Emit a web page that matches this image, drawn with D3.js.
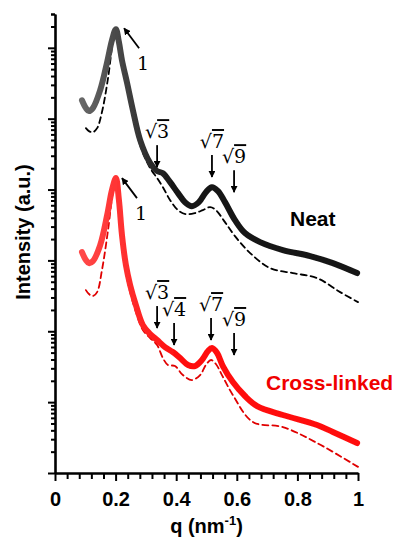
<!DOCTYPE html>
<html>
<head>
<meta charset="utf-8">
<script src="https://cdn.jsdelivr.net/npm/d3@7/dist/d3.min.js"></script>
<style>
	body { margin: 0; background: #fff; }
	text { font-family: "Liberation Sans", Arial, sans-serif; }
	.axis path, .axis line { stroke: #000; }
	.peak-label { font-family: "DejaVu Serif", "Liberation Serif", serif; font-size: 19px; }
</style>
</head>
<body>
<div id="chart-area"></div>
<script>

// Neat - solid (measured)
const neatQ = [0.089, 0.102, 0.112, 0.125, 0.149, 0.172, 0.188, 0.201, 0.211, 0.221, 0.238, 0.257, 0.281, 0.314, 0.337, 0.356, 0.380, 0.406, 0.429, 0.452, 0.475, 0.498, 0.518, 0.538, 0.561, 0.594, 0.627, 0.677, 0.752, 0.842, 0.917, 0.997];
const neatI = [1.82e5, 1.41e5, 1.28e5, 1.41e5, 2.52e5, 6.27e5, 1.28e6, 1.83e6, 1.20e6, 6.68e5, 3.17e5, 1.32e5, 4.98e4, 2.36e4, 1.82e4, 1.70e4, 1.27e4, 8.89e3, 6.64e3, 5.83e3, 6.64e3, 9.18e3, 1.08e4, 9.49e3, 6.64e3, 3.70e3, 2.43e3, 1.81e3, 1.40e3, 1.15e3, 916, 662];

// Neat - dashed
const neatFitQ = [0.102, 0.112, 0.125, 0.139, 0.155, 0.175, 0.191, 0.201, 0.211, 0.221, 0.238, 0.257, 0.281, 0.314, 0.337, 0.356, 0.380, 0.406, 0.432, 0.462, 0.488, 0.512, 0.531, 0.561, 0.594, 0.644, 0.710, 0.785, 0.865, 0.941, 1.0];
const neatFitI = [7.35e4, 6.67e4, 6.45e4, 7.35e4, 1.24e5, 3.73e5, 1.20e6, 1.77e6, 1.12e6, 6.27e5, 2.87e5, 1.16e5, 4.23e4, 2.00e4, 1.45e4, 1.08e4, 7.08e3, 5.12e3, 4.50e3, 4.65e3, 5.12e3, 5.65e3, 5.12e3, 3.47e3, 2.20e3, 1.27e3, 778, 662, 562, 357, 258];

// Cross-linked - solid
const crossQ = [0.089, 0.102, 0.112, 0.125, 0.149, 0.172, 0.188, 0.201, 0.211, 0.221, 0.234, 0.248, 0.267, 0.290, 0.314, 0.337, 0.363, 0.389, 0.413, 0.439, 0.462, 0.485, 0.505, 0.518, 0.535, 0.554, 0.587, 0.627, 0.667, 0.752, 0.865, 0.917, 0.997];
const crossI = [1.31e3, 1.01e3, 916, 977, 1.64e3, 4.35e3, 9.82e3, 1.45e4, 7.08e3, 2.28e3, 859, 448, 234, 122, 91.3, 75.1, 59.8, 50.9, 41.9, 33.4, 32.3, 39.3, 52.6, 58.0, 49.3, 32.3, 19.2, 12.2, 8.81, 6.58, 4.75, 3.79, 2.65];

// Cross-linked - dashed
const crossFitQ = [0.102, 0.112, 0.125, 0.139, 0.155, 0.175, 0.191, 0.201, 0.211, 0.221, 0.234, 0.248, 0.267, 0.290, 0.314, 0.337, 0.356, 0.373, 0.396, 0.422, 0.452, 0.479, 0.498, 0.515, 0.531, 0.551, 0.587, 0.653, 0.752, 0.865, 1.0];
const crossFitI = [381, 335, 314, 357, 730, 2.67e3, 9.18e3, 1.36e4, 6.03e3, 1.93e3, 684, 357, 187, 104, 80.2, 63.9, 41.9, 33.4, 32.3, 24.1, 20.5, 24.1, 33.4, 39.3, 34.5, 24.1, 12.6, 5.24, 4.45, 2.65, 1.22];

// peak annotations (label, q, intensity at arrow tip)
const neatPeakLabels = ["√3", "√7", "√9"];
const neatPeakQ = [0.337, 0.518, 0.591];
const neatPeakI = [2.07e4, 1.50e4, 9.18e3];

const crossPeakLabels = ["√3", "√4", "√7", "√9"];
const crossPeakQ = [0.337, 0.393, 0.515, 0.591];
const crossPeakI = [111, 63.9, 75.1, 46.2];

// first order peak arrows
const firstQ = [0.228, 0.221];
const firstI = [1.89e6, 1.45e4];

// axis ticks
const xMajorTicks = [0, 0.2, 0.4, 0.6, 0.8, 1];
const xTickLabels = ["0", "0.2", "0.4", "0.6", "0.8", "1"];

drawChart();

function drawChart(){

	let margin = {top: 14, right: 48, bottom: 66, left: 55};
	let width = 406 - margin.left - margin.right,
		height = 539 - margin.top - margin.bottom;

	let svgRoot = d3.select("#chart-area").append("svg")
		.attr("width", 406)
		.attr("height", 539);

	let defs = svgRoot.append("defs");
	defs.append("marker")
		.attr("id", "head")
		.attr("viewBox", "0 0 10 10")
		.attr("refX", 9).attr("refY", 5)
		.attr("markerWidth", 7).attr("markerHeight", 7)
		.attr("markerUnits", "userSpaceOnUse")
		.attr("orient", "auto")
		.append("path")
		.attr("d", "M0,0 L10,5 L0,10 Z")
		.attr("fill", "#000");

	defs.append("filter").attr("id", "soft")
		.append("feGaussianBlur").attr("stdDeviation", 0.7);

	let svg = svgRoot.append("g")
		.attr("transform", "translate(" + margin.left + "," + margin.top + ")");

	let x = d3.scaleLinear().domain([0, 1]).range([0, width]);
	let y = d3.scaleLog().domain([1, 3e6]).range([height, 0]);

	// gradients for the thick curves
	let gBlack = defs.append("linearGradient").attr("id", "gBlack")
		.attr("gradientUnits", "userSpaceOnUse")
		.attr("x1", x(0.08)).attr("x2", x(0.4)).attr("y1", 0).attr("y2", 0);
	gBlack.append("stop").attr("offset", "0").attr("stop-color", "#6a6a6a");
	gBlack.append("stop").attr("offset", "1").attr("stop-color", "#151515");

	let gRed = defs.append("linearGradient").attr("id", "gRed")
		.attr("gradientUnits", "userSpaceOnUse")
		.attr("x1", x(0.08)).attr("x2", x(0.4)).attr("y1", 0).attr("y2", 0);
	gRed.append("stop").attr("offset", "0").attr("stop-color", "#ff4a4a");
	gRed.append("stop").attr("offset", "1").attr("stop-color", "#ff1010");

	let line = d3.line()
		.x(d => x(d[0]))
		.y(d => y(d[1]))
		.curve(d3.curveCatmullRom.alpha(0.5));

	let series = [
		{q: neatFitQ, v: neatFitI, stroke: "#000", w: 1.8, dash: "6,4"},
		{q: crossFitQ, v: crossFitI, stroke: "#e00000", w: 1.8, dash: "6,4"},
		{q: neatQ, v: neatI, stroke: "url(#gBlack)", w: 6, dash: null},
		{q: crossQ, v: crossI, stroke: "url(#gRed)", w: 6, dash: null}
	];

	series.forEach(s => {
		svg.append("path")
			.datum(d3.zip(s.q, s.v))
			.attr("d", line)
			.attr("fill", "none")
			.attr("stroke", s.stroke)
			.attr("stroke-width", s.w)
			.attr("stroke-linecap", "round")
			.attr("stroke-dasharray", s.dash)
			.attr("filter", s.dash ? null : "url(#soft)");
	});

	// Y axis: log ticks, no labels
	let yMinor = [], yMajor = [];
	for (let d = 0; d <= 6; d++) {
		for (let m = 1; m <= 9; m++) {
			let v = m * Math.pow(10, d);
			if (v > 3e6) break;
			(m === 1 ? yMajor : yMinor).push(v);
		}
	}
	yMinor.push(3e6);

	svg.append("g")
		.attr("class", "y axis")
		.call(d3.axisLeft(y).tickValues(yMinor).tickSize(4).tickSizeOuter(0).tickFormat(""))
		.call(g => g.selectAll(".tick line").attr("stroke-width", 2));

	svg.append("g")
		.attr("class", "y axis")
		.call(d3.axisLeft(y).tickValues(yMajor).tickSize(7).tickSizeOuter(0).tickFormat(""))
		.call(g => g.select(".domain").attr("stroke-width", 2.6))
		.call(g => g.selectAll(".tick line").attr("stroke-width", 2));

	// X axis
	let xMinor = d3.range(0, 26).map(i => i * 0.04).filter(v => Math.abs(v / 0.2 - Math.round(v / 0.2)) > 1e-6);

	svg.append("g")
		.attr("class", "x axis")
		.attr("transform", "translate(0," + height + ")")
		.call(d3.axisBottom(x).tickValues(xMinor).tickSize(6).tickSizeOuter(0).tickFormat(""))
		.call(g => g.selectAll(".tick line").attr("stroke-width", 2));

	svg.append("g")
		.attr("class", "x axis")
		.attr("transform", "translate(0," + height + ")")
		.call(d3.axisBottom(x).tickValues(xMajorTicks).tickSize(8).tickSizeOuter(0)
			.tickFormat((d, i) => xTickLabels[i]))
		.call(g => g.select(".domain").attr("stroke-width", 2.6))
		.call(g => g.selectAll(".tick line").attr("stroke-width", 2))
		.call(g => g.selectAll(".tick text")
			.attr("y", 19)
			.attr("fill", "#000")
			.style("font-size", "20px")
			.style("font-weight", "bold")
			.style("font-family", "'Liberation Sans', Arial, sans-serif"));

	// axis titles
	let xTitle = svgRoot.append("text")
		.attr("x", margin.left + width / 2)
		.attr("y", 533)
		.attr("text-anchor", "middle")
		.style("font-size", "20px")
		.style("font-weight", "bold");
	xTitle.append("tspan").text("q (nm");
	xTitle.append("tspan").text("-1").style("font-size", "13px").attr("dy", -8);
	xTitle.append("tspan").text(")").attr("dy", 8);

	svgRoot.append("text")
		.attr("transform", "translate(30,232) rotate(-90)")
		.attr("text-anchor", "middle")
		.style("font-size", "20px")
		.style("font-weight", "bold")
		.text("Intensity (a.u.)");

	// series labels
	svgRoot.append("text")
		.attr("x", 290).attr("y", 226)
		.style("font-size", "21px").style("font-weight", "bold")
		.attr("fill", "#000")
		.text("Neat");

	svgRoot.append("text")
		.attr("x", 266).attr("y", 390)
		.style("font-size", "21px").style("font-weight", "bold")
		.attr("fill", "#f00000")
		.text("Cross-linked");

	// peak arrows
	function peakArrows(labels, qs, vs) {
		labels.forEach((lab, i) => {
			let px = x(qs[i]), py = y(vs[i]);
			svg.append("line")
				.attr("x1", px).attr("x2", px)
				.attr("y1", py - 22).attr("y2", py)
				.attr("stroke", "#000").attr("stroke-width", 1.8)
				.attr("marker-end", "url(#head)");
			let t = svg.append("text")
				.attr("class", "peak-label")
				.attr("x", px).attr("y", py - 29)
				.attr("text-anchor", "middle");
			t.append("tspan").text(lab[0]);
			t.append("tspan").text(lab.slice(1)).style("text-decoration", "overline");
		});
	}
	peakArrows(neatPeakLabels, neatPeakQ, neatPeakI);
	peakArrows(crossPeakLabels, crossPeakQ, crossPeakI);

	firstQ.forEach((q, i) => {
		let px = x(q), py = y(firstI[i]);
		svg.append("line")
			.attr("x1", px + 15).attr("y1", py + 20)
			.attr("x2", px).attr("y2", py)
			.attr("stroke", "#000").attr("stroke-width", 1.8)
			.attr("marker-end", "url(#head)");
		svg.append("text")
			.attr("class", "peak-label")
			.attr("x", px + 19).attr("y", py + 42)
			.attr("text-anchor", "middle")
			.text("1");
	});
}
</script>
</body>
</html>
